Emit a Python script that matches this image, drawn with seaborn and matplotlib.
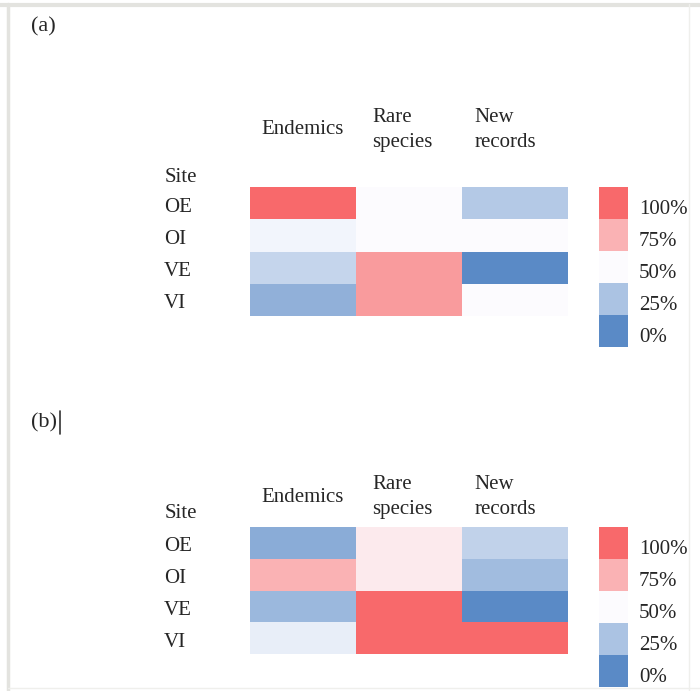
import numpy as np
import pandas as pd
import seaborn as sns
import matplotlib.pyplot as plt
from matplotlib.colors import LinearSegmentedColormap
from matplotlib.lines import Line2D
from matplotlib.transforms import ScaledTranslation

sites = ["OE", "OI", "VE", "VI"]
groups = ["Endemics", "Rare\nspecies", "New\nrecords"]

# share of each group per site (0 = lowest, 1 = highest)
endemics_a = [1.00, 0.47, 0.33, 0.17]
rare_a = [0.50, 0.50, 0.83, 0.83]
new_a = [0.28, 0.50, 0.00, 0.50]

endemics_b = [0.15, 0.75, 0.20, 0.44]
rare_b = [0.56, 0.56, 1.00, 1.00]
new_b = [0.32, 0.22, 0.00, 1.00]

legend_levels = [1.00, 0.75, 0.50, 0.25, 0.00]
legend_labels = ["100%", "75%", "50%", "25%", "0%"]

sns.set_theme(style="white")
plt.rcParams["font.family"] = ["Liberation Serif", "DejaVu Serif"]

cmap = LinearSegmentedColormap.from_list("rwb", ["#5A8AC6", "#FCFCFF", "#F8696B"])

W, H = 700, 691
FS = 15
fig = plt.figure(figsize=(W / 100, H / 100), dpi=100)
down = ScaledTranslation(0, -4 / 100, fig.dpi_scale_trans)


def px(x0, y0, x1, y1):
    # pixel box (from top-left) -> figure fraction rect
    return [x0 / W, 1 - y1 / H, (x1 - x0) / W, (y1 - y0) / H]


def panel(data, hm_box, leg_box, hdr_y, site_y):
    ax = fig.add_axes(px(*hm_box))
    sns.heatmap(data, ax=ax, cmap=cmap, vmin=0, vmax=1, cbar=False,
                xticklabels=False, yticklabels=True)
    ax.set_xlabel("")
    ax.set_ylabel("")
    ax.tick_params(axis="y", length=0, pad=62, labelsize=FS, rotation=0)
    for t in ax.get_yticklabels():
        t.set_ha("left")
        t.set_transform(t.get_transform() + down)
    for i, (g, dx) in enumerate(zip(groups, [0.11, 0.15, 0.12])):
        ax.text(i + dx, hdr_y, g, ha="left", va="center", fontsize=FS,
                linespacing=1.45, clip_on=False)
    ax.text(-0.81, site_y, "Site", ha="left", va="center", fontsize=FS,
            clip_on=False)

    lax = fig.add_axes(px(*leg_box))
    leg = pd.DataFrame({"v": legend_levels}, index=legend_labels)
    sns.heatmap(leg, ax=lax, cmap=cmap, vmin=0, vmax=1, cbar=False,
                xticklabels=False, yticklabels=True)
    lax.set_ylabel("")
    lax.yaxis.tick_right()
    lax.tick_params(axis="y", length=0, pad=8, labelsize=FS, rotation=0)
    for t in lax.get_yticklabels():
        t.set_transform(t.get_transform() + down)
    return ax


df_a = pd.DataFrame({"Endemics": endemics_a, "Rare": rare_a, "New": new_a}, index=sites)
df_b = pd.DataFrame({"Endemics": endemics_b, "Rare": rare_b, "New": new_b}, index=sites)

panel(df_a, (250, 187, 568, 316), (599, 187, 628, 347), -1.77, -0.31)
panel(df_b, (250, 527, 568, 654), (599, 527, 628, 687), -0.94, -0.44)

fig.text(31 / W, 1 - 27 / H, "(a)", ha="left", va="center", fontsize=16)
fig.text(31 / W, 1 - 423 / H, "(b)", ha="left", va="center", fontsize=16)
fig.add_artist(Line2D([60 / W, 60 / W], [1 - 411 / H, 1 - 434 / H], color="#333333", lw=1.2))

# light frame of the original screenshot
frame = "#e3e3df"
fig.add_artist(Line2D([8 / W, 8 / W], [0, 1 - 4 / H], color=frame, lw=2.5))
fig.add_artist(Line2D([0, 1], [1 - 5 / H, 1 - 5 / H], color=frame, lw=3))
fig.add_artist(Line2D([689 / W, 689 / W], [0, 1 - 4 / H], color="#efefec", lw=1))
fig.add_artist(Line2D([8 / W, 1], [1 - 688 / H, 1 - 688 / H], color="#efefec", lw=1))

fig.savefig("out.png", dpi=100)
